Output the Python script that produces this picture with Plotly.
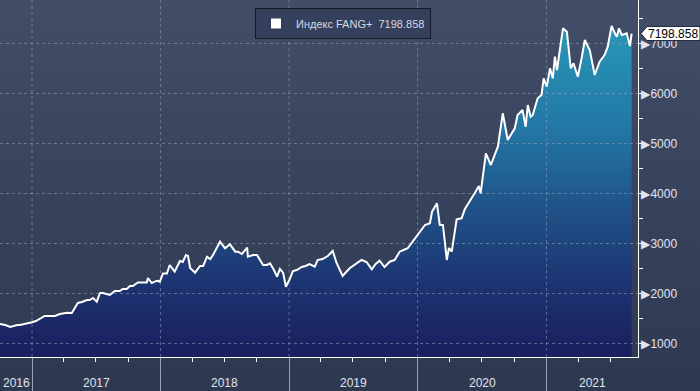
import base64
import pandas as pd
import plotly.graph_objects as go

# ---------------- data ----------------
dates = [
    "2016-10-02", "2016-10-17", "2016-10-31", "2016-11-08", "2016-11-20", "2016-11-28", "2016-12-12",
    "2017-01-01", "2017-01-12", "2017-01-23", "2017-02-06", "2017-02-20", "2017-03-07", "2017-03-21",
    "2017-04-10", "2017-04-24", "2017-05-03", "2017-05-11", "2017-05-23", "2017-06-06", "2017-06-14",
    "2017-06-23", "2017-07-04", "2017-07-13", "2017-07-21", "2017-08-10", "2017-08-24", "2017-09-07",
    "2017-09-16", "2017-09-27", "2017-10-06", "2017-10-14", "2017-10-29", "2017-11-23", "2017-11-26",
    "2017-12-07", "2017-12-22", "2017-12-30",
    "2018-01-08", "2018-01-19", "2018-01-27", "2018-02-10", "2018-02-25", "2018-03-05", "2018-03-14",
    "2018-03-20", "2018-03-26", "2018-04-09", "2018-04-23", "2018-05-02", "2018-05-13", "2018-05-22",
    "2018-05-30", "2018-06-10", "2018-06-19", "2018-07-03", "2018-07-17", "2018-08-01", "2018-08-09",
    "2018-08-20", "2018-08-29", "2018-09-04", "2018-09-06", "2018-09-21", "2018-10-02", "2018-10-19",
    "2018-10-30", "2018-11-08", "2018-11-19", "2018-11-28", "2018-12-06", "2018-12-15", "2018-12-23",
    "2019-01-03", "2019-01-12", "2019-01-23", "2019-02-06", "2019-02-17", "2019-02-28", "2019-03-15",
    "2019-03-23", "2019-04-06", "2019-04-21", "2019-05-05", "2019-05-16", "2019-06-02", "2019-06-22",
    "2019-07-09", "2019-07-26", "2019-08-09", "2019-08-24", "2019-09-04", "2019-09-15", "2019-09-29",
    "2019-10-14", "2019-10-28", "2019-11-11", "2019-11-22", "2019-12-04", "2019-12-18",
    "2020-01-02", "2020-01-13", "2020-01-22", "2020-02-05", "2020-02-11", "2020-02-25", "2020-03-04",
    "2020-03-13", "2020-03-24", "2020-03-30", "2020-04-07", "2020-04-21", "2020-05-05", "2020-05-14",
    "2020-05-28", "2020-06-11", "2020-06-23", "2020-06-28", "2020-07-13", "2020-07-27", "2020-08-16",
    "2020-08-30", "2020-09-13", "2020-10-03", "2020-10-11", "2020-10-25", "2020-11-03", "2020-11-09",
    "2020-11-17", "2020-11-23", "2020-12-07", "2020-12-18", "2020-12-24",
    "2021-01-02", "2021-01-11", "2021-01-19", "2021-01-25", "2021-01-31", "2021-02-08", "2021-02-17",
    "2021-02-28", "2021-03-11", "2021-03-19", "2021-03-31", "2021-04-11", "2021-04-20", "2021-05-04",
    "2021-05-18", "2021-06-01", "2021-06-15", "2021-06-24", "2021-07-05", "2021-07-14", "2021-07-20",
    "2021-07-26", "2021-08-03", "2021-08-17", "2021-08-26", "2021-08-31",
]
fang_values = [
    1390, 1370, 1330, 1350, 1370, 1370, 1390,
    1424, 1450, 1490, 1550, 1550, 1550, 1590,
    1616, 1610, 1710, 1810, 1830, 1870, 1870,
    1910, 1836, 2010, 2010, 1970, 2050, 2050,
    2090, 2090, 2150, 2150, 2220, 2220, 2310,
    2210, 2256, 2236,
    2400, 2400, 2570, 2436, 2650, 2630, 2770,
    2750, 2510, 2416, 2550, 2550, 2736, 2690,
    2770, 2910, 3036, 2904, 2984, 2836, 2836,
    2790, 2870, 2916, 2736, 2770, 2770, 2570,
    2570, 2604, 2470, 2336, 2490, 2416, 2136,
    2290, 2450, 2470, 2530, 2550, 2590, 2536,
    2670, 2690, 2750, 2850, 2610, 2350, 2504,
    2590, 2670, 2630, 2484, 2590, 2656, 2530,
    2636, 2670, 2836, 2870, 2904, 3036,
    3170, 3290, 3370, 3404, 3636, 3804, 3370,
    3370, 2670, 2910, 2836, 3484, 3504, 3684,
    3836, 4004, 4150, 4004, 4804, 4570, 4936,
    5604, 5070, 5304, 5570, 5670, 5336, 5770,
    5536, 5570, 5904, 5970, 6304,
    6136, 6504, 6304, 6736, 6470, 6870, 7304,
    7236, 6504, 6604, 6336, 6710, 7070, 6870,
    6370, 6636, 6770, 6936, 7350, 7210, 7136,
    7304, 7170, 7204, 6950, 7198.858,
]
series_name = "Индекс FANG+"
y_tick_values = [1000, 2000, 3000, 4000, 5000, 6000, 7000]
year_labels = ["2016", "2017", "2018", "2019", "2020", "2021"]
year_starts = ["2016-01-01", "2017-01-01", "2018-01-01", "2019-01-01", "2020-01-01", "2021-01-01"]
year_ends = ["2017-01-01", "2018-01-01", "2019-01-01", "2020-01-01", "2021-01-01", "2022-01-01"]

x_range = ["2016-10-02", "2021-09-18"]
y_range = [730, 7870]

# ---------------- styling ----------------
FONT = "Liberation Sans, Arial, sans-serif"
TXT = "#e2e5ec"
GRID = "rgba(150,160,185,0.55)"

last_value = fang_values[-1]

fig = go.Figure()

# area fill with vertical gradient
fig.add_trace(go.Scatter(
    x=dates, y=fang_values, mode="lines", fill="tozeroy",
    line=dict(width=0, color="rgba(0,0,0,0)"),
    fillgradient=dict(
        type="vertical", start=730, stop=7400,
        colorscale=[[0, "#1a1f5e"], [0.2, "#1d3170"], [0.45, "#1f5388"],
                    [0.7, "#2379a7"], [1, "#2898b7"]],
    ),
    showlegend=False, hoverinfo="skip",
))

# dashed gridlines drawn above the fill (built from tick arrays and axis range)
gx, gy = [], []
for v in y_tick_values:
    gx += [x_range[0], x_range[1], None]
    gy += [v, v, None]
for d in year_starts[1:]:
    gx += [d, d, None]
    gy += [y_range[0], y_range[1], None]
fig.add_trace(go.Scatter(
    x=gx, y=gy, mode="lines",
    line=dict(color=GRID, width=1, dash="3px,3px"),
    showlegend=False, hoverinfo="skip",
))

# main line
fig.add_trace(go.Scatter(
    x=dates, y=fang_values, mode="lines",
    line=dict(color="white", width=2),
    showlegend=False,
))

# legend entry (white square)
fig.add_trace(go.Scatter(
    x=[None], y=[None], mode="markers",
    marker=dict(symbol="square", size=10, color="white"),
    name=f"{series_name}\u00a0\u00a0{last_value:.3f}",
))

# background gradient image
svg = ('<svg xmlns="http://www.w3.org/2000/svg" width="700" height="391">'
       '<defs><linearGradient id="g" x1="0" y1="0" x2="0" y2="1">'
       '<stop offset="0" stop-color="#424d68"/><stop offset="1" stop-color="#2d3851"/>'
       '</linearGradient></defs><rect width="700" height="391" fill="url(#g)"/></svg>')
src = "data:image/svg+xml;base64," + base64.b64encode(svg.encode()).decode()

W, H = 700, 391
ML, MR, MT, MB = 0, 62, 0, 34
pw, ph = W - ML - MR, H - MT - MB

fig.add_layout_image(dict(
    source=src, xref="paper", yref="paper", x=0, y=1,
    sizex=W / pw, sizey=H / ph, xanchor="left", yanchor="top",
    sizing="stretch", layer="below",
))

# year labels centred in the visible part of each year
r0, r1 = pd.Timestamp(x_range[0]), pd.Timestamp(x_range[1])
for lab, s, e in zip(year_labels, year_starts, year_ends):
    a = max(pd.Timestamp(s), r0)
    b = min(pd.Timestamp(e), r1)
    mid = a + (b - a) / 2
    fig.add_annotation(
        x=mid, y=0, xref="x", yref="paper", yshift=-26,
        text=lab, showarrow=False, yanchor="middle", xanchor="center",
        font=dict(family=FONT, size=12, color=TXT),
    )

# last value tag
fig.add_shape(
    type="path", xref="paper", yref="y", xsizemode="pixel", ysizemode="pixel",
    xanchor=1, yanchor=last_value,
    path="M 3,0 L 9,7 L 62,7 L 62,-7 L 9,-7 Z",
    fillcolor="white", line=dict(color="#20283a", width=1), layer="above",
)
fig.add_annotation(
    x=1, xref="paper", y=last_value, yref="y", xanchor="left", xshift=8,
    text=f"{last_value:.3f}", showarrow=False,
    font=dict(family=FONT, size=12, color="black"),
)

fig.update_layout(
    width=W, height=H, template="none",
    margin=dict(l=ML, r=MR, t=MT, b=MB),
    paper_bgcolor="#353f59", plot_bgcolor="rgba(0,0,0,0)",
    font=dict(family=FONT, size=12, color=TXT),
    showlegend=True,
    legend=dict(
        x=343 / pw, xanchor="center", y=1 - 8 / ph, yanchor="top",
        bgcolor="#34405c", bordercolor="#141a28", borderwidth=1,
        font=dict(family=FONT, size=11, color="#d5d9e2"),
        itemwidth=30, tracegroupgap=0,
    ),
    hovermode=False,
)

fig.update_xaxes(
    type="date", range=x_range, showgrid=False, zeroline=False,
    showline=True, linecolor="white", linewidth=1,
    tickvals=year_starts[1:], ticktext=[""] * (len(year_starts) - 1),
    ticks="outside", ticklen=34, tickcolor="#9aa2b4", tickwidth=1,
    minor=dict(dtick="M3", tick0="2017-01-01", ticks="outside", ticklen=4,
               tickcolor="white", showgrid=False),
    automargin=False, fixedrange=True,
)
fig.update_yaxes(
    range=y_range, side="right", showgrid=False, zeroline=False,
    showline=True, linecolor="white", linewidth=1,
    tickvals=y_tick_values, ticktext=[f"\u25b6{v}" for v in y_tick_values],
    ticks="", ticklabelstandoff=0,
    tickfont=dict(family=FONT, size=12, color=TXT),
    minor=dict(dtick=500, tick0=500, ticks="outside", ticklen=4,
               tickcolor="white", showgrid=False),
    automargin=False, fixedrange=True,
)

fig.write_html(
    "out.html",
    config={"displayModeBar": False, "staticPlot": True},
    post_script="document.body.style.margin='0';document.body.style.overflow='hidden';",
)
